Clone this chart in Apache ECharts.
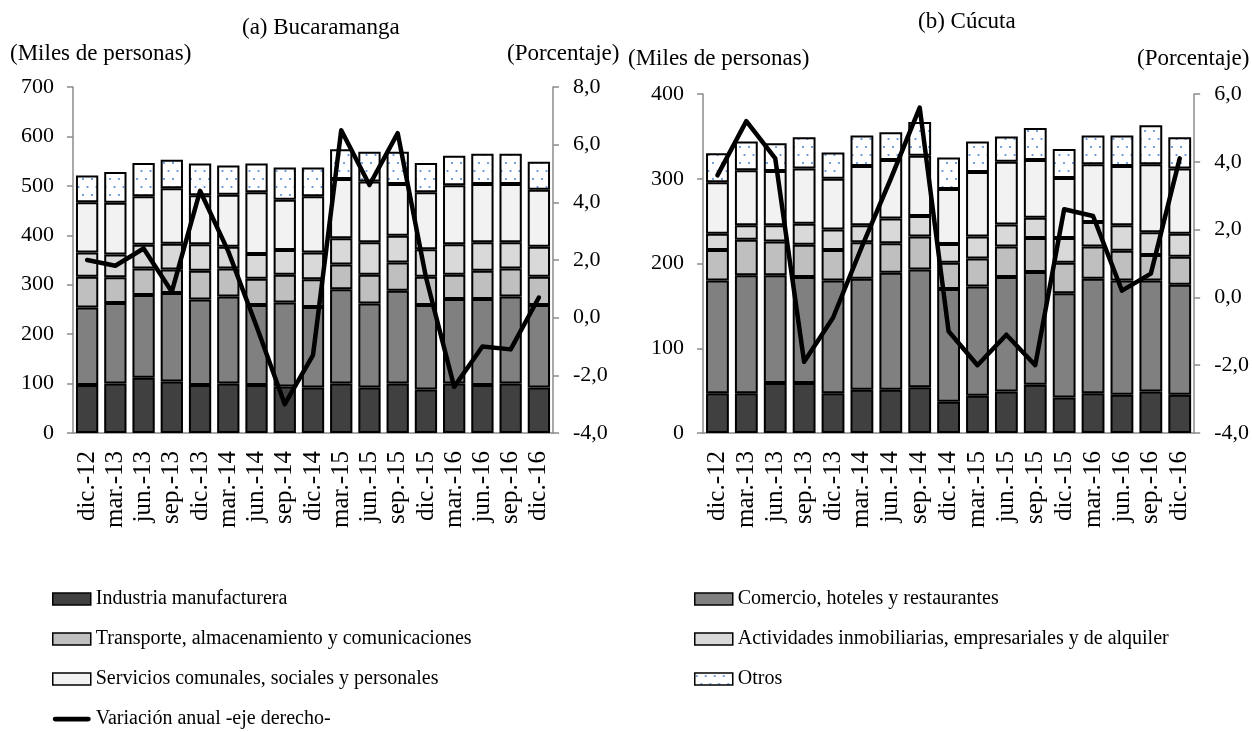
<!DOCTYPE html>
<html>
<head>
<meta charset="utf-8">
<script src="https://cdn.jsdelivr.net/npm/echarts@6/dist/echarts.min.js"></script>
<style>
  html, body { margin: 0; padding: 0; background: #fff; }
  #chart { width: 1252px; height: 732px; }
</style>
</head>
<body>
<div id="chart"></div>
<script>
var categories = ['dic.-12', 'mar.-13', 'jun.-13', 'sep.-13', 'dic.-13', 'mar.-14', 'jun.-14', 'sep.-14',
  'dic.-14', 'mar.-15', 'jun.-15', 'sep.-15', 'dic.-15', 'mar.-16', 'jun.-16', 'sep.-16', 'dic.-16']

var seriesNames = ['Industria manufacturera', 'Comercio, hoteles y restaurantes',
  'Transporte, almacenamiento y comunicaciones', 'Actividades inmobiliarias, empresariales y de alquiler',
  'Servicios comunales, sociales y personales', 'Otros']
var lineName = 'Variación anual -eje derecho-'

// Bucaramanga (miles de personas)
var bucIndustria = [97, 100, 112, 104, 97, 100, 97, 94, 92, 100, 92, 100, 88, 100, 97, 100, 92]
var bucComercio = [157, 163, 167, 179, 173, 176, 162, 170, 163, 191, 170, 188, 171, 171, 174, 176, 167]
var bucTransporte = [62, 52, 54, 48, 58, 57, 53, 56, 56, 50, 58, 57, 57, 49, 57, 57, 57]
var bucInmobiliarias = [49, 46, 48, 52, 54, 44, 50, 50, 54, 53, 66, 54, 56, 62, 58, 53, 61]
var bucServicios = [102, 105, 98, 112, 99, 105, 125, 102, 114, 120, 123, 105, 115, 119, 118, 118, 115]
var bucOtros = [54, 62, 67, 58, 64, 59, 58, 65, 58, 60, 60, 65, 59, 60, 61, 61, 57]
var bucVariacion = [2.0, 1.8, 2.4, 0.9, 4.4, 2.3, -0.3, -3.0, -1.3, 6.5, 4.6, 6.4, 1.4, -2.4, -1.0, -1.1, 0.7]

// Cúcuta (miles de personas)
var cucIndustria = [47, 47, 59, 59, 47, 51, 51, 54, 37, 44, 49, 57, 42, 47, 45, 49, 45]
var cucComercio = [133, 139, 127, 125, 133, 131, 138, 139, 133, 129, 135, 133, 123, 135, 135, 131, 130]
var cucTransporte = [36, 42, 40, 38, 36, 43, 35, 39, 31, 33, 36, 40, 36, 38, 35, 30, 33]
var cucInmobiliarias = [19, 17, 19, 25, 24, 20, 29, 24, 22, 26, 26, 24, 29, 29, 30, 27, 27]
var cucServicios = [61, 65, 64, 65, 60, 70, 69, 71, 65, 76, 74, 68, 71, 68, 70, 80, 77]
var cucOtros = [34, 34, 33, 37, 31, 36, 33, 40, 37, 36, 30, 38, 34, 34, 36, 46, 37]
var cucVariacion = [3.6, 5.2, 4.1, -1.9, -0.6, 1.5, 3.5, 5.6, -1.0, -2.0, -1.1, -2.0, 2.6, 2.4, 0.2, 0.7, 4.1]

var fillColors = ['#404040', '#808080', '#bfbfbf', '#d9d9d9', '#f2f2f2']
var font = 'Liberation Serif'

// dotted fill for "Otros"
function dotPattern() {
  var c = document.createElement('canvas')
  c.width = 9
  c.height = 16
  var ctx = c.getContext('2d')
  ctx.fillStyle = '#fff'
  ctx.fillRect(0, 0, 9, 16)
  ctx.fillStyle = '#5b8fd0'
  ctx.beginPath(); ctx.arc(2, 3, 1.1, 0, Math.PI * 2); ctx.fill()
  ctx.beginPath(); ctx.arc(6.5, 11, 1.1, 0, Math.PI * 2); ctx.fill()
  return c
}
var otrosFill = { image: dotPattern(), repeat: 'repeat' }

// thick line icon for the legend (tiny subpaths keep the box 40x12)
var lineIcon = 'path://M0,0L0.01,0M40,12L39.99,12M2.5,3.5L37.5,3.5A2.5,2.5,0,0,1,37.5,8.5L2.5,8.5A2.5,2.5,0,0,1,2.5,3.5Z'

function pct(v) {
  return v.toFixed(1).replace('.', ',')
}

function barSeries(idx, datas) {
  var list = []
  for (var i = 0; i < datas.length; i++) {
    list.push({
      name: seriesNames[i],
      type: 'bar',
      stack: 'g' + idx,
      xAxisIndex: idx,
      yAxisIndex: idx * 2,
      barCategoryGap: '21%',
      itemStyle: {
        color: i < 5 ? fillColors[i] : otrosFill,
        borderColor: '#000',
        borderWidth: 2
      },
      data: datas[i]
    })
  }
  list.push({
    name: lineName,
    type: 'line',
    xAxisIndex: idx,
    yAxisIndex: idx * 2 + 1,
    symbol: 'none',
    legendIcon: lineIcon,
    z: 10,
    lineStyle: { color: '#000', width: 4.5, cap: 'round', join: 'round' },
    itemStyle: { color: '#000' },
    data: idx === 0 ? bucVariacion : cucVariacion
  })
  return list
}

var txt = { fontFamily: font, fontSize: 23, color: '#000', fontWeight: 'normal' }
var gray = '#8c8c8c'

function xAx(idx) {
  return {
    type: 'category',
    gridIndex: idx,
    data: categories,
    axisLine: { lineStyle: { color: gray, width: 1.5 } },
    axisTick: { show: false },
    axisLabel: { rotate: 90, fontFamily: font, fontSize: 25, color: '#000', margin: 18, interval: 0 }
  }
}
function yAx(idx, pos, min, max, step, fmt) {
  return {
    type: 'value',
    gridIndex: idx,
    position: pos,
    min: min,
    max: max,
    interval: step,
    splitLine: { show: false },
    axisLine: { show: true, lineStyle: { color: gray, width: 1.5 } },
    axisTick: { show: true, length: 6, lineStyle: { color: gray, width: 1.5 } },
    axisLabel: { fontFamily: font, fontSize: 22, color: '#000', margin: pos === 'left' ? 19 : 20, formatter: fmt }
  }
}

var legendText = { fontFamily: font, fontSize: 20, color: '#000' }

var chart = echarts.init(document.getElementById('chart'))
chart.setOption({
  animation: false,
  backgroundColor: '#fff',
  title: [
    { text: '(a) Bucaramanga', left: 242, top: 16, padding: 0, textStyle: txt },
    { text: '(Miles de personas)', left: 10, top: 42, padding: 0, textStyle: txt },
    { text: '(Porcentaje)', left: 507, top: 42, padding: 0, textStyle: txt },
    { text: '(b) Cúcuta', left: 918, top: 10, padding: 0, textStyle: txt },
    { text: '(Miles de personas)', left: 628, top: 47, padding: 0, textStyle: txt },
    { text: '(Porcentaje)', left: 1137, top: 47, padding: 0, textStyle: txt }
  ],
  grid: [
    { left: 73, right: 699, top: 87, bottom: 299 },
    { left: 703, right: 55, top: 94, bottom: 299 }
  ],
  legend: [
    {
      orient: 'vertical', left: 52, top: 589, height: 143, padding: 0, itemGap: 20, icon: 'rect',
      itemWidth: 38, itemHeight: 12, textStyle: legendText, selectedMode: false,
      itemStyle: { borderColor: '#000', borderWidth: 1.5 },
      data: [seriesNames[0], seriesNames[2], seriesNames[4],
        { name: lineName, icon: lineIcon, itemStyle: { borderWidth: 0 } }]
    },
    {
      orient: 'vertical', left: 694, top: 589, height: 143, padding: 0, itemGap: 20, icon: 'rect',
      itemWidth: 38, itemHeight: 12, textStyle: legendText, selectedMode: false,
      itemStyle: { borderColor: '#000', borderWidth: 1.5 },
      data: [seriesNames[1], seriesNames[3], seriesNames[5]]
    }
  ],
  xAxis: [xAx(0), xAx(1)],
  yAxis: [
    yAx(0, 'left', 0, 700, 100, function (v) { return v }),
    yAx(0, 'right', -4, 8, 2, pct),
    yAx(1, 'left', 0, 400, 100, function (v) { return v }),
    yAx(1, 'right', -4, 6, 2, pct)
  ],
  series: barSeries(0, [bucIndustria, bucComercio, bucTransporte, bucInmobiliarias, bucServicios, bucOtros])
    .concat(barSeries(1, [cucIndustria, cucComercio, cucTransporte, cucInmobiliarias, cucServicios, cucOtros]))
})
</script>
</body>
</html>
